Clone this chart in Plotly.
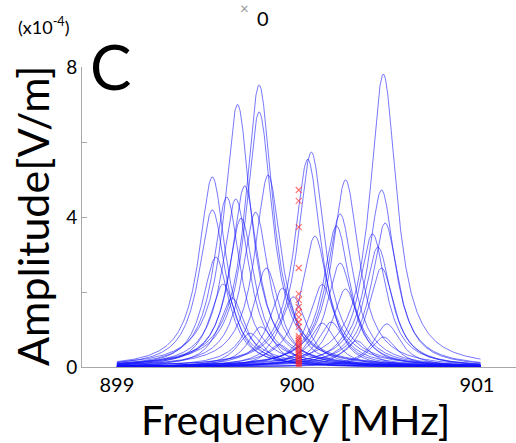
import numpy as np
import plotly.graph_objects as go

# Resonance peaks (centre frequency in MHz, peak amplitude in 1e-4 V/m)
peak_freq = [899.53, 899.53, 899.67, 899.79, 899.79, 899.84, 899.61, 899.66, 899.71, 899.77,
             899.69, 899.55, 899.59, 899.64, 899.83, 899.92, 899.98, 899.74, 899.80, 899.90,
             900.48, 900.08, 900.06, 900.27, 900.47, 900.49, 900.24, 900.22, 900.42, 900.45,
             900.47, 900.10, 900.24, 900.27, 900.14, 900.50, 900.48, 900.19, 900.14, 900.33]
peak_amp = [5.07, 4.19, 7.00, 7.52, 6.80, 5.12, 4.53, 4.48, 4.83, 4.13,
            3.97, 2.93, 2.21, 1.84, 2.64, 2.10, 1.87, 0.90, 1.07, 0.60,
            7.81, 5.73, 5.54, 4.99, 4.72, 3.84, 4.08, 3.76, 3.55, 3.20,
            2.64, 3.49, 2.77, 2.08, 2.20, 1.15, 0.80, 1.20, 1.17, 0.70]
peak_hwhm = 0.09  # half width of each resonance, MHz

# Red crosses: amplitude at the 900 MHz carrier
marker_freq = 900.01
marker_amp = [4.72, 4.43, 3.73, 2.64, 1.95, 1.79, 1.60, 1.47, 1.33, 1.20, 1.07,
              0.82, 0.76, 0.70, 0.64, 0.58, 0.52, 0.46, 0.40, 0.35, 0.30, 0.25,
              0.20, 0.15, 0.10, 0.06, 0.02]

x_ticks = [899, 900, 901]
y_ticks = [0, 4, 8]

freq = np.linspace(899.0, 901.02, 1200)

fig = go.Figure()
for f0, a in zip(peak_freq, peak_amp):
    y = a / (1.0 + ((freq - f0) / peak_hwhm) ** 2)
    fig.add_trace(go.Scatter(x=freq, y=y, mode="lines",
                             line=dict(color="rgba(20,20,255,0.68)", width=0.85),
                             hoverinfo="skip", showlegend=False))

fig.add_trace(go.Scatter(x=[marker_freq] * len(marker_amp), y=marker_amp, mode="markers",
                         marker=dict(symbol="x-thin-open", size=6, color="rgba(255,40,40,0.65)",
                                     line=dict(color="rgba(255,40,40,0.65)", width=1.1)),
                         hoverinfo="skip", showlegend=False))

font = "Lato, 'Open Sans', sans-serif"
fig.update_layout(
    width=516, height=443,
    margin=dict(l=82, r=0, t=67, b=76),
    paper_bgcolor="white", plot_bgcolor="white",
    font=dict(family=font, color="black"),
    xaxis=dict(range=[898.806, 901.217], showline=True, linecolor="#a8a8a8", linewidth=1,
               showgrid=False, zeroline=False, ticks="",
               tickvals=x_ticks, tickfont=dict(size=20, family=font)),
    yaxis=dict(range=[0, 8], showline=True, linecolor="#a8a8a8", linewidth=1,
               showgrid=False, zeroline=False, ticks="inside", ticklen=5, tickcolor="#a8a8a8",
               tickvals=y_ticks, tickfont=dict(size=19, family=font),
               minor=dict(ticks="inside", ticklen=5, tickcolor="#a8a8a8", dtick=2,
                          showgrid=False)),
)

def px(x):
    return (x - 82) / 434.0

def py(y):
    return (367 - y) / 300.0

def note(text, x, y, size, color="black", angle=0):
    fig.add_annotation(text=text, textangle=angle, xref="paper", yref="paper",
                       x=px(x), y=py(y), xanchor="center", yanchor="middle",
                       showarrow=False, font=dict(size=size, family=font, color=color))

note("Amplitude[V/m]", 32, 216, 43, angle=-90)
note("Frequency [MHz]", 295, 419, 41)
note("C", 110, 66, 62)
note("(x10<sup>-4</sup>)", 43, 26, 18)
note("0", 263, 18, 20)
note("×", 244, 8, 15, color="#999999")

fig.write_html("out.html", config={"displayModeBar": False},
               post_script="document.body.style.margin='0';")
